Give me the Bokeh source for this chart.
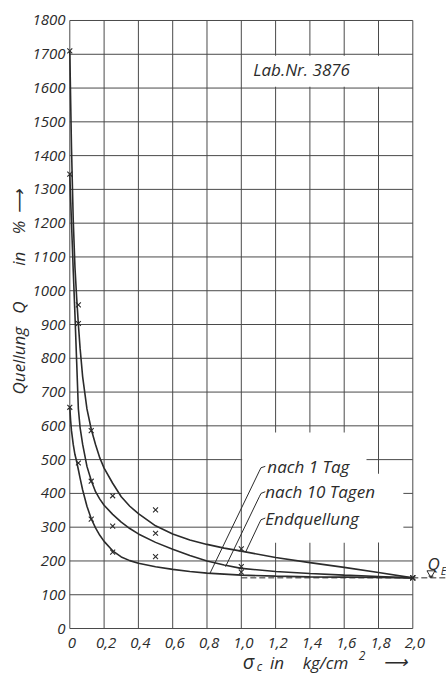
import math
from bokeh.plotting import figure
from bokeh.models import Range1d
from bokeh.core.properties import value
from bokeh.embed import file_html
from bokeh.resources import INLINE

# ---------------- data ----------------
x_ticks = [0, 0.2, 0.4, 0.6, 0.8, 1.0, 1.2, 1.4, 1.6, 1.8, 2.0]
x_tick_labels = ["0", "0,2", "0,4", "0,6", "0,8", "1,0", "1,2", "1,4", "1,6", "1,8", "2,0"]
y_ticks = [0, 100, 200, 300, 400, 500, 600, 700, 800, 900, 1000, 1100, 1200,
           1300, 1400, 1500, 1600, 1700, 1800]
y_tick_labels = [str(v) for v in y_ticks]

# measured points (crosses)
x_meas = [0, 0.05, 0.125, 0.25, 0.5, 1.0, 2.0]
q_end_meas = [1710, 958, 586, 393, 351, 236, 150]
q_10tage_meas = [1345, 903, 436, 303, 282, 183, 150]
q_1tag_meas = [655, 490, 324, 226, 213, 167, 150]

# drawn (fitted) curves
x_curve = [0, 0.005, 0.01, 0.02, 0.03, 0.04, 0.05, 0.06, 0.075, 0.1, 0.125, 0.15,
           0.175, 0.2, 0.25, 0.3, 0.35, 0.4, 0.5, 0.6, 0.7, 0.8, 0.9, 1.0,
           1.2, 1.4, 1.6, 1.8, 2.0]
q_end_curve = [1710, 1560, 1420, 1210, 1070, 980, 900, 830, 745, 650, 590, 545,
               505, 475, 430, 390, 362, 340, 304, 280, 262, 249, 238, 229,
               210, 195, 181, 166, 150]
q_10tage_curve = [1345, 1270, 1200, 1060, 930, 790, 650, 595, 545, 480, 438, 405,
                  383, 365, 338, 315, 296, 280, 255, 235, 216, 200, 188, 178,
                  169, 163, 158, 154, 150]
q_1tag_curve = [655, 615, 585, 545, 515, 495, 470, 445, 410, 362, 325, 298,
                276, 258, 230, 212, 201, 193, 183, 175, 169, 164, 161, 158,
                155, 153, 152, 151, 150]

q_e = 150
series_names = ["nach 1 Tag", "nach 10 Tagen", "Endquellung"]
lab_text = "Lab.Nr. 3876"
y_title_words = ["Quellung", "Q", "in", "%", "\u27f6"]
x_title_parts = ["\u03c3", "c", "in", "kg/cm", "2", "\u27f6"]

# ---------------- figure ----------------
INK = "#2b2b2b"
GRID = "#4a4a4a"
FONT = "Open Sans"

p = figure(width=446, height=675,
           x_range=Range1d(-0.40408, 2.19650), y_range=Range1d(-139.1, 1859.2),
           x_axis_location=None, y_axis_location=None,
           output_backend="svg", toolbar_location=None, min_border=0)
p.outline_line_color = None
p.background_fill_color = "white"
p.border_fill_color = "white"
p.grid.visible = False


def txt(x, y, text, size="17px", align="left", baseline="middle", angle=0.0):
    p.text(x=x, y=y, text=text, angle=angle, text_font=value(FONT),
           text_font_style="italic", text_font_size=size, text_color=INK,
           text_align=align, text_baseline=baseline)


# grid drawn by hand so that it stops at 2.0 / 1800
xmax = x_ticks[-1]
ymax = y_ticks[-1]
p.segment(x0=x_ticks, y0=[0] * len(x_ticks), x1=x_ticks, y1=[ymax] * len(x_ticks),
          line_color=GRID, line_width=1)
p.segment(x0=[0] * len(y_ticks), y0=y_ticks, x1=[xmax] * len(y_ticks), y1=y_ticks,
          line_color=GRID, line_width=1)

# tick labels
txt([t + 0.012 for t in x_ticks], [-44] * len(x_ticks), x_tick_labels,
    size="15px", align="center")
txt([-0.025] * len(y_ticks), y_ticks, y_tick_labels, size="15px", align="right")

# white fields behind the inscriptions
p.quad(left=[1.005, 1.005, 1.005], right=[1.73, 1.945, 1.995],
       bottom=[255, 255, 1604], top=[580, 458, 1696],
       fill_color="white", line_color=None)

# asymptote Q_E
p.line([1.0, 2.1965], [q_e, q_e], line_color=INK, line_width=1, line_dash="6 3")

# curves
for q in (q_end_curve, q_10tage_curve, q_1tag_curve):
    p.line(x_curve, q, line_color=INK, line_width=1.6)

# crosses
for q in (q_end_meas, q_10tage_meas, q_1tag_meas):
    p.scatter(x_meas, q, marker="x", size=7, line_color=INK, line_width=1.1)

# leader lines (label -> curve)
p.line([0.816, 1.105, 1.115, 1.14], [162, 466, 476, 480], line_color=INK, line_width=1)
p.line([0.908, 1.105, 1.115, 1.14], [183, 390, 400, 405], line_color=INK, line_width=1)
p.line([1.025, 1.105, 1.115, 1.14], [226, 312, 322, 327], line_color=INK, line_width=1)

# Q_E symbol
p.scatter([2.106], [q_e + 14], marker="inverted_triangle", size=8,
          fill_color="white", line_color=INK, line_width=1)
p.segment(x0=[2.092, 2.097], y0=[q_e + 5, q_e + 2], x1=[2.12, 2.115], y1=[q_e + 5, q_e + 2],
          line_color=INK, line_width=1)

# inscriptions
txt([1.152, 1.14, 1.14], [480, 405, 327], series_names)
txt([1.07], [1655], [lab_text])
txt([2.121], [192], ["Q"], size="17px", align="center")
txt([2.179], [172], ["E"], size="11px", align="center")

# axis titles
txt([-0.299] * 5, [793, 950, 1095, 1187, 1262], y_title_words,
    size="17px", align="center", angle=math.pi / 2)
txt([1.042], [-97], [x_title_parts[0]], size="20px", align="center")
txt([1.106], [-112], [x_title_parts[1]], size="12px", align="center")
txt([1.208, 1.491], [-100, -100], x_title_parts[2:4], size="17px", align="center")
txt([1.704], [-80], [x_title_parts[4]], size="12px", align="center")
txt([1.899], [-98], [x_title_parts[5]], size="17px", align="center")

open("out.html", "w").write(file_html(p, INLINE))
